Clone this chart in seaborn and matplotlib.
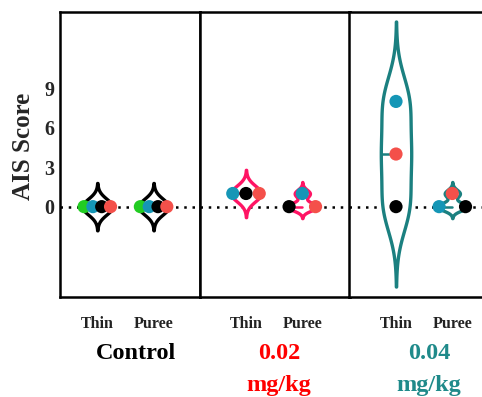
import matplotlib
matplotlib.use('Agg')
import matplotlib.pyplot as plt
import numpy as np
import pandas as pd
import seaborn as sns

# AIS scores per animal, rows in plotted order within each group
dose = ['Control'] * 8 + ['0.02'] * 6 + ['0.04'] * 6
texture = (['Thin'] * 4 + ['Puree'] * 4
           + ['Thin'] * 3 + ['Puree'] * 3
           + ['Thin'] * 3 + ['Puree'] * 3)
subject = (['green', 'blue', 'black', 'red'] * 2
           + ['blue', 'black', 'red'] + ['black', 'blue', 'red']
           + ['black', 'red', 'blue'] + ['blue', 'red', 'black'])
score = ([0, 0, 0, 0] + [0, 0, 0, 0]
         + [1, 1, 1] + [0, 1, 0]
         + [0, 4, 8] + [0, 1, 0])

dose_order = ['Control', '0.02', '0.04']
dose_labels = ['Control', '0.02\nmg/kg', '0.04\nmg/kg']
texture_order = ['Thin', 'Puree']
y_ticks = [0, 3, 6, 9]

subject_colors = {'green': '#22cc22', 'blue': '#1596b6',
                  'black': '#000000', 'red': '#f4504a'}
violin_colors = {'Control': '#000000', '0.02': '#ff1464', '0.04': '#1b8080'}
label_colors = {'Control': '#000000', '0.02': '#ff0000', '0.04': '#1f8a8a'}

df = pd.DataFrame({'dose': dose, 'texture': texture,
                   'subject': subject, 'score': score})


def spread_ties(d, width=0.235):
    # spread points with equal score side by side, keeping row order
    d = d.copy()
    d['x'] = d['texture'].map({t: i for i, t in enumerate(texture_order)}).astype(float)
    for _, idx in d.groupby(['texture', 'score']).groups.items():
        n = len(idx)
        if n > 1:
            d.loc[idx, 'x'] += np.linspace(-width, width, n)
    return d


def draw_violin(ax, values, pos, color, half=0.27, cut=3.0):
    values = np.asarray(values, dtype=float)
    sd = values.std()
    bw = 0.62 * sd if sd > 0 else 0.6
    grid = np.linspace(values.min() - cut * bw, values.max() + cut * bw, 300)
    dens = np.exp(-0.5 * ((grid[:, None] - values[None, :]) / bw) ** 2).sum(axis=1)
    w = half * dens / dens.max()
    ax.fill_betweenx(grid, pos - w, pos + w, facecolor='white',
                     edgecolor=color, lw=2.4, zorder=2)
    med = np.median(values)
    w_med = np.interp(med, grid, w)
    ax.plot([pos - w_med, pos], [med, med], color=color, lw=1.8, zorder=3)


sns.set_style('white')
serif = 'Liberation Serif'

fig = plt.figure(figsize=(4.82, 3.97), dpi=100)
W, H = 482, 397
px_unit = 56.3
panels = [(60, 140, 37.3), (200, 150, 46.0), (349.3, 150, 46.7)]
y_lim = (-6.87, 14.8)

for k, (d, lab) in enumerate(zip(dose_order, dose_labels)):
    left, width, first = panels[k]
    ax = fig.add_axes([left / W, (H - 297) / H, width / W, 285 / H])
    sub = spread_ties(df[df['dose'] == d])

    ax.axhline(0, color='black', ls=(0, (1, 2.3)), lw=1.8, zorder=1)
    for i, t in enumerate(texture_order):
        draw_violin(ax, sub.loc[sub['texture'] == t, 'score'], i, violin_colors[d])

    sns.scatterplot(data=sub, x='x', y='score', hue='subject',
                    palette=subject_colors, s=90, edgecolor='none',
                    legend=False, ax=ax, zorder=4)

    x0 = -first / px_unit
    ax.set_xlim(x0, x0 + width / px_unit)
    ax.set_ylim(*y_lim)
    ax.set_xticks(range(len(texture_order)))
    ax.set_xticklabels(texture_order, fontfamily=serif, fontweight='bold',
                       fontsize=11.5, color='#222222')
    ax.tick_params(axis='x', length=0, pad=14)
    ax.set_xlabel('')
    ax.set_ylabel('')
    if k == 0:
        ax.set_yticks(y_ticks)
        ax.set_yticklabels([str(v) for v in y_ticks], fontfamily=serif,
                           fontweight='bold', fontsize=14.5)
        ax.tick_params(axis='y', length=0, pad=4)
    else:
        ax.set_yticks([])
    for sp in ax.spines.values():
        sp.set_visible(True)
        sp.set_color('black')
        sp.set_linewidth(1.8)

    lx = {0: 0.541, 1: 0.527, 2: 0.531}[k]
    ax.text(lx, -0.163, lab, transform=ax.transAxes, ha='center', va='top',
            fontfamily=serif, fontweight='bold', fontsize=17.5,
            color=label_colors[d], linespacing=1.65)

fig.text(24 / W, 1 - 146.5 / H, 'AIS Score', rotation=90, ha='center',
         va='center', fontfamily=serif, fontweight='bold', fontsize=18)

fig.savefig('out.png', dpi=100)
